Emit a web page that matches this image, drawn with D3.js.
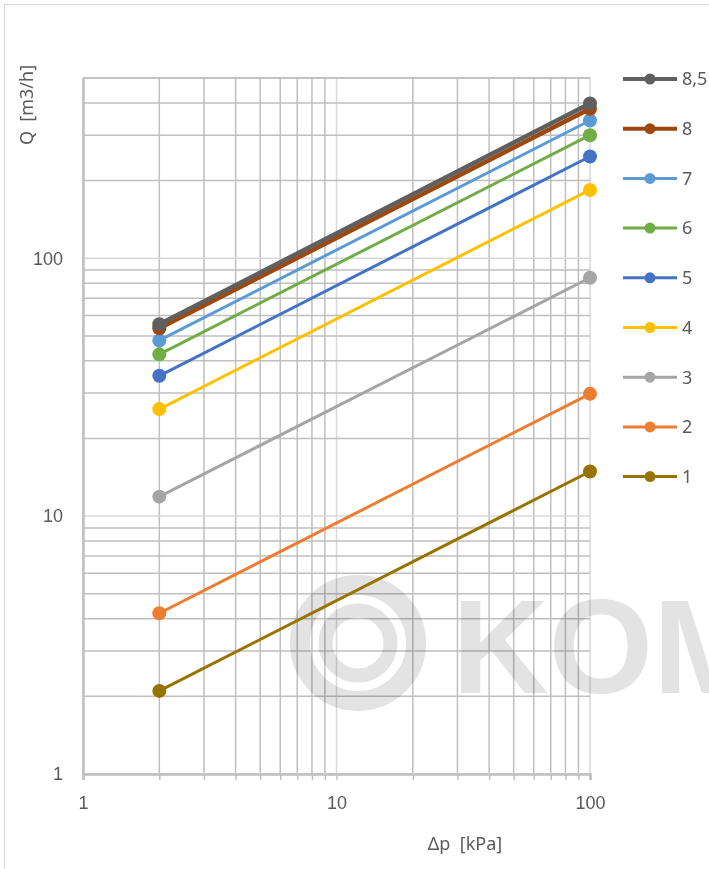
<!DOCTYPE html>
<html>
<head>
<meta charset="utf-8">
<style>
body { margin: 0; background: #fff; }
svg { display: block; font-family: "Noto Sans", "Open Sans", sans-serif; }
.axis path, .axis line { stroke: #bfbfbf; }
.axis text { fill: #595959; font-size: 18px; }
</style>
</head>
<body>
<script src="https://d3js.org/d3.v7.min.js"></script>
<script>
// data
var pressures = [2, 100];                 // Δp [kPa]
var seriesNames = ["8,5", "8", "7", "6", "5", "4", "3", "2", "1"];
var q85 = [55.5, 398];
var q8  = [53.5, 380];
var q7  = [48, 342];
var q6  = [42.4, 300];
var q5  = [35, 248];
var q4  = [26, 184];
var q3  = [11.9, 84];
var q2  = [4.2, 29.8];
var q1  = [2.1, 14.9];
var seriesValues = [q85, q8, q7, q6, q5, q4, q3, q2, q1];
var seriesColors = ["#5f5f5f", "#9e480e", "#5b9bd5", "#70ad47", "#4472c4", "#ffc000", "#a5a5a5", "#ed7d31", "#997300"];
var seriesWidths = [4.5, 4.5, 3, 3, 3, 3, 3, 3, 3];
var xMajor = [1, 10, 100];
var yMajor = [1, 10, 100];

var W = 709, H = 869;
var plotLeft = 83, plotRight = 590, plotTop = 78, plotBottom = 774;

var svg = d3.select("body").append("svg")
    .attr("width", W)
    .attr("height", H);

// chart frame
svg.append("rect")
    .attr("x", 4.5).attr("y", 4.5)
    .attr("width", 730).attr("height", 900)
    .attr("fill", "none")
    .attr("stroke", "#d9d9d9");

var x = d3.scaleLog().domain([1, 100]).range([plotLeft, plotRight]);
var y = d3.scaleLog().domain([1, 500]).range([plotBottom, plotTop]);

var xGrid = [];
[1, 10].forEach(function(d) { for (var k = 1; k <= 9; k++) xGrid.push(d * k); });
xGrid.push(100);
var yGrid = [];
[1, 10, 100].forEach(function(d) { for (var k = 1; k <= 9; k++) if (d * k <= 500) yGrid.push(d * k); });

var isMajor = function(v) { return Math.abs(Math.log10(v) - Math.round(Math.log10(v))) < 1e-9; };

var grid = svg.append("g");
grid.selectAll(".vg").data(xGrid).enter().append("line")
    .attr("x1", function(d) { return x(d); })
    .attr("x2", function(d) { return x(d); })
    .attr("y1", plotTop).attr("y2", plotBottom)
    .attr("stroke", function(d) { return isMajor(d) ? "#d9d9d9" : "#bfbfbf"; })
    .attr("stroke-width", 1.5);
grid.selectAll(".hg").data(yGrid).enter().append("line")
    .attr("y1", function(d) { return y(d); })
    .attr("y2", function(d) { return y(d); })
    .attr("x1", plotLeft).attr("x2", plotRight)
    .attr("stroke", function(d) { return isMajor(d) ? "#d9d9d9" : "#bfbfbf"; })
    .attr("stroke-width", 1.5);
// top edge
grid.append("line")
    .attr("x1", plotLeft).attr("x2", plotRight)
    .attr("y1", plotTop).attr("y2", plotTop)
    .attr("stroke", "#bfbfbf").attr("stroke-width", 1.5);

// watermark, multiplied over the grid
var wm = svg.append("g").style("mix-blend-mode", "multiply");
wm.append("circle").attr("cx", 358).attr("cy", 643).attr("r", 58)
    .attr("fill", "none").attr("stroke", "#e3e3e3").attr("stroke-width", 20);
wm.append("circle").attr("cx", 358).attr("cy", 643).attr("r", 32.5)
    .attr("fill", "none").attr("stroke", "#e3e3e3").attr("stroke-width", 14);
wm.append("text")
    .attr("x", 452).attr("y", 693)
    .attr("fill", "#e3e3e3")
    .style("font-size", "134px")
    .style("font-weight", "bold")
    .style("font-family", "Liberation Sans, Arial, sans-serif")
    .text("KOM");

// axes
var xAxis = d3.axisBottom(x)
    .tickValues(xGrid)
    .tickSize(6)
    .tickPadding(16)
    .tickFormat(function(d) { return xMajor.indexOf(d) >= 0 ? d : ""; });
svg.append("g").attr("class", "axis")
    .attr("transform", "translate(0," + plotBottom + ")")
    .call(xAxis)
    .call(function(g) { g.select(".domain").attr("stroke-width", 2.5); g.selectAll("line").attr("stroke-width", 1.5); });

var yAxis = d3.axisLeft(y)
    .tickValues(yMajor)
    .tickSize(0)
    .tickPadding(20)
    .tickFormat(function(d) { return d; });
svg.append("g").attr("class", "axis")
    .attr("transform", "translate(" + plotLeft + ",0)")
    .call(yAxis)
    .call(function(g) { g.select(".domain").attr("stroke-width", 2.5); });

// axis titles
svg.append("text")
    .attr("transform", "translate(33,105) rotate(-90)")
    .attr("text-anchor", "middle")
    .attr("fill", "#595959")
    .style("font-size", "18px")
    .style("white-space", "pre")
    .text("Q  [m3/h]");
svg.append("text")
    .attr("x", 465).attr("y", 850)
    .attr("text-anchor", "middle")
    .attr("fill", "#595959")
    .style("font-size", "18px")
    .style("white-space", "pre")
    .text("\u0394p  [kPa]");

// series, drawn bottom-up so 8,5 ends on top
var line = d3.line()
    .x(function(d) { return x(d[0]); })
    .y(function(d) { return y(d[1]); });
var order = d3.range(seriesNames.length).reverse();
order.forEach(function(i) {
    var pts = pressures.map(function(p, j) { return [p, seriesValues[i][j]]; });
    var g = svg.append("g");
    g.append("path")
        .attr("d", line(pts))
        .attr("fill", "none")
        .attr("stroke", seriesColors[i])
        .attr("stroke-width", seriesWidths[i]);
    g.selectAll("circle").data(pts).enter().append("circle")
        .attr("cx", function(d) { return x(d[0]); })
        .attr("cy", function(d) { return y(d[1]); })
        .attr("r", 7)
        .attr("fill", seriesColors[i]);
});

// legend
var legend = svg.append("g").attr("transform", "translate(623,79)");
var item = legend.selectAll("g").data(seriesNames).enter().append("g")
    .attr("transform", function(d, i) { return "translate(0," + i * 49.7 + ")"; });
item.append("line")
    .attr("x1", 0).attr("x2", 54)
    .attr("stroke", function(d, i) { return seriesColors[i]; })
    .attr("stroke-width", function(d, i) { return seriesWidths[i] > 3 ? 4 : 3; });
item.append("circle")
    .attr("cx", 27).attr("r", 5.5)
    .attr("fill", function(d, i) { return seriesColors[i]; });
item.append("text")
    .attr("x", 59).attr("dy", "0.35em")
    .attr("fill", "#595959")
    .style("font-size", "18px")
    .text(function(d) { return d; });
</script>
</body>
</html>
